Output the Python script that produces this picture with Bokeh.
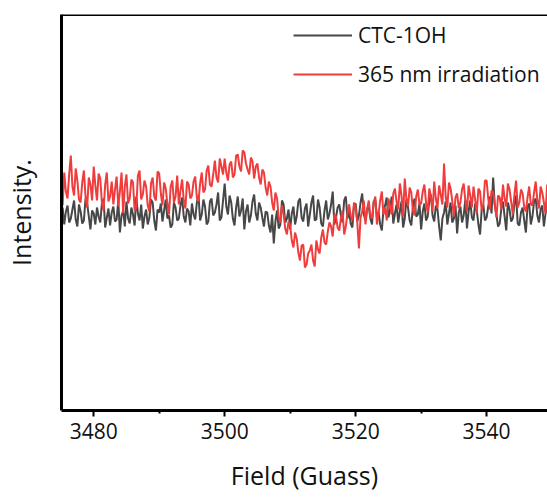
from bokeh.plotting import figure
from bokeh.models import Range1d, Span, FixedTicker, Legend, LegendItem
from bokeh.embed import file_html
from bokeh.resources import INLINE

# Magnetic field (G)
field = [
    3475.0, 3475.25, 3475.5, 3475.75, 3476.0, 3476.25, 3476.5, 3476.75, 3477.0, 3477.25,
    3477.5, 3477.75, 3478.0, 3478.25, 3478.5, 3478.75, 3479.0, 3479.25, 3479.5, 3479.75,
    3480.0, 3480.25, 3480.5, 3480.75, 3481.0, 3481.25, 3481.5, 3481.75, 3482.0, 3482.25,
    3482.5, 3482.75, 3483.0, 3483.25, 3483.5, 3483.75, 3484.0, 3484.25, 3484.5, 3484.75,
    3485.0, 3485.25, 3485.5, 3485.75, 3486.0, 3486.25, 3486.5, 3486.75, 3487.0, 3487.25,
    3487.5, 3487.75, 3488.0, 3488.25, 3488.5, 3488.75, 3489.0, 3489.25, 3489.5, 3489.75,
    3490.0, 3490.25, 3490.5, 3490.75, 3491.0, 3491.25, 3491.5, 3491.75, 3492.0, 3492.25,
    3492.5, 3492.75, 3493.0, 3493.25, 3493.5, 3493.75, 3494.0, 3494.25, 3494.5, 3494.75,
    3495.0, 3495.25, 3495.5, 3495.75, 3496.0, 3496.25, 3496.5, 3496.75, 3497.0, 3497.25,
    3497.5, 3497.75, 3498.0, 3498.25, 3498.5, 3498.75, 3499.0, 3499.25, 3499.5, 3499.75,
    3500.0, 3500.25, 3500.5, 3500.75, 3501.0, 3501.25, 3501.5, 3501.75, 3502.0, 3502.25,
    3502.5, 3502.75, 3503.0, 3503.25, 3503.5, 3503.75, 3504.0, 3504.25, 3504.5, 3504.75,
    3505.0, 3505.25, 3505.5, 3505.75, 3506.0, 3506.25, 3506.5, 3506.75, 3507.0, 3507.25,
    3507.5, 3507.75, 3508.0, 3508.25, 3508.5, 3508.75, 3509.0, 3509.25, 3509.5, 3509.75,
    3510.0, 3510.25, 3510.5, 3510.75, 3511.0, 3511.25, 3511.5, 3511.75, 3512.0, 3512.25,
    3512.5, 3512.75, 3513.0, 3513.25, 3513.5, 3513.75, 3514.0, 3514.25, 3514.5, 3514.75,
    3515.0, 3515.25, 3515.5, 3515.75, 3516.0, 3516.25, 3516.5, 3516.75, 3517.0, 3517.25,
    3517.5, 3517.75, 3518.0, 3518.25, 3518.5, 3518.75, 3519.0, 3519.25, 3519.5, 3519.75,
    3520.0, 3520.25, 3520.5, 3520.75, 3521.0, 3521.25, 3521.5, 3521.75, 3522.0, 3522.25,
    3522.5, 3522.75, 3523.0, 3523.25, 3523.5, 3523.75, 3524.0, 3524.25, 3524.5, 3524.75,
    3525.0, 3525.25, 3525.5, 3525.75, 3526.0, 3526.25, 3526.5, 3526.75, 3527.0, 3527.25,
    3527.5, 3527.75, 3528.0, 3528.25, 3528.5, 3528.75, 3529.0, 3529.25, 3529.5, 3529.75,
    3530.0, 3530.25, 3530.5, 3530.75, 3531.0, 3531.25, 3531.5, 3531.75, 3532.0, 3532.25,
    3532.5, 3532.75, 3533.0, 3533.25, 3533.5, 3533.75, 3534.0, 3534.25, 3534.5, 3534.75,
    3535.0, 3535.25, 3535.5, 3535.75, 3536.0, 3536.25, 3536.5, 3536.75, 3537.0, 3537.25,
    3537.5, 3537.75, 3538.0, 3538.25, 3538.5, 3538.75, 3539.0, 3539.25, 3539.5, 3539.75,
    3540.0, 3540.25, 3540.5, 3540.75, 3541.0, 3541.25, 3541.5, 3541.75, 3542.0, 3542.25,
    3542.5, 3542.75, 3543.0, 3543.25, 3543.5, 3543.75, 3544.0, 3544.25, 3544.5, 3544.75,
    3545.0, 3545.25, 3545.5, 3545.75, 3546.0, 3546.25, 3546.5, 3546.75, 3547.0, 3547.25,
    3547.5, 3547.75, 3548.0, 3548.25, 3548.5, 3548.75, 3549.0, 3549.25, 3549.5, 3549.75,
]

# CTC-1OH (dark) intensity, arbitrary units
ctc_1oh = [
    196, 203, 186, 199, 205, 188, 192, 201, 210, 191, 184, 206, 199, 187, 190, 212, 207, 194, 181, 200,
    197, 186, 203, 194, 188, 207, 212, 183, 193, 202, 185, 198, 204, 189, 191, 210, 178, 195, 200, 184,
    209, 192, 187, 203, 196, 185, 214, 197, 190, 206, 182, 194, 201, 186, 193, 211, 208, 190, 180, 201,
    198, 207, 189, 200, 211, 192, 195, 183, 186, 208, 203, 190, 192, 205, 213, 194, 188, 202, 199, 185,
    207, 196, 191, 208, 215, 190, 196, 211, 204, 186, 189, 209, 212, 195, 198, 206, 218, 190, 193, 210,
    227, 204, 196, 215, 208, 192, 185, 203, 214, 194, 200, 212, 181, 199, 206, 188, 195, 209, 216, 197,
    190, 208, 203, 193, 184, 199, 198, 185, 178, 196, 167, 189, 200, 182, 186, 210, 206, 188, 192, 201,
    181, 197, 204, 186, 194, 209, 212, 193, 189, 202, 207, 184, 196, 208, 215, 190, 191, 211, 203, 187,
    184, 200, 210, 191, 197, 206, 219, 186, 193, 203, 206, 195, 188, 210, 214, 192, 199, 187, 183, 205,
    207, 189, 195, 208, 217, 196, 190, 202, 204, 192, 186, 209, 211, 194, 198, 186, 180, 201, 205, 213,
    193, 201, 214, 187, 197, 206, 188, 199, 209, 183, 192, 211, 203, 190, 185, 204, 212, 194, 196, 207,
    181, 199, 207, 190, 194, 210, 216, 195, 189, 205, 201, 184, 170, 192, 198, 209, 186, 197, 208, 188,
    192, 205, 177, 198, 204, 188, 195, 211, 182, 199, 210, 193, 190, 207, 200, 186, 176, 201, 206, 190,
    193, 204, 214, 197, 233, 205, 196, 184, 187, 202, 209, 194, 180, 208, 201, 189, 192, 206, 215, 187,
    185, 198, 203, 190, 178, 204, 207, 186, 194, 209, 212, 195, 188, 201, 205, 184, 197, 206, 210, 192,
]

# 365 nm irradiation intensity, arbitrary units
irradiated = [
    222, 205, 238, 219, 212, 236, 255, 224, 215, 242, 230, 211, 208, 228, 240, 214, 203, 233, 226, 210,
    244, 225, 210, 237, 232, 208, 200, 226, 238, 209, 214, 229, 206, 221, 234, 204, 219, 238, 197, 224,
    236, 207, 212, 231, 228, 200, 203, 235, 240, 211, 216, 230, 224, 205, 199, 227, 233, 214, 210, 239,
    237, 217, 205, 228, 222, 207, 196, 224, 230, 208, 214, 235, 206, 220, 231, 210, 202, 229, 226, 212,
    215, 229, 234, 213, 209, 227, 238, 218, 221, 240, 245, 226, 224, 236, 250, 233, 228, 252, 244, 236,
    252, 238, 230, 246, 249, 233, 236, 255, 256, 244, 239, 260, 258, 247, 241, 236, 253, 249, 232, 244,
    247, 233, 226, 241, 238, 223, 215, 229, 224, 208, 200, 218, 212, 193, 188, 205, 196, 182, 176, 189,
    185, 170, 163, 178, 172, 158, 150, 165, 166, 143, 146, 157, 160, 166, 150, 144, 170, 161, 157, 173,
    181, 168, 166, 179, 188, 184, 174, 196, 194, 183, 180, 192, 200, 176, 184, 197, 206, 195, 190, 208,
    203, 188, 162, 193, 199, 210, 186, 201, 210, 195, 192, 207, 214, 186, 197, 210, 219, 196, 203, 190,
    212, 205, 196, 217, 222, 209, 201, 227, 215, 194, 232, 212, 204, 223, 218, 200, 195, 214, 221, 206,
    207, 219, 226, 208, 198, 222, 214, 199, 229, 212, 202, 225, 216, 206, 247, 214, 203, 228, 222, 210,
    194, 213, 217, 202, 208, 221, 227, 210, 199, 225, 215, 203, 224, 211, 197, 222, 219, 200, 206, 230,
    230, 212, 201, 220, 218, 206, 193, 215, 213, 201, 226, 212, 204, 227, 221, 209, 196, 216, 230, 203,
    208, 221, 217, 203, 199, 213, 224, 206, 205, 218, 229, 210, 202, 224, 218, 208, 197, 226, 215, 204,
]

series_names = ["CTC-1OH", "365 nm irradiation"]
x_ticks = [3480, 3500, 3520, 3540]
x_minor = [3490, 3510, 3530]

FONT = "Open Sans"

p = figure(
    width=547, height=497,
    x_range=Range1d(3475.08, 3549.3),
    y_range=Range1d(0, 396),
    output_backend="svg", toolbar_location=None,
    min_border_left=60, min_border_right=0,
    min_border_top=14, min_border_bottom=87,
)
p.outline_line_color = None
p.xgrid.visible = False
p.ygrid.visible = False
p.background_fill_color = "white"
p.border_fill_color = "white"

r1 = p.line(field, ctc_1oh, line_color="#474747", line_width=2)
r2 = p.line(field, irradiated, line_color="#ef3d3d", line_width=2)

# x axis
xa = p.xaxis[0]
xa.ticker = FixedTicker(ticks=x_ticks, minor_ticks=x_minor)
xa.axis_line_width = 3
xa.axis_line_color = "black"
xa.major_tick_line_width = 2
xa.major_tick_in = 0
xa.major_tick_out = 6
xa.minor_tick_line_width = 2
xa.minor_tick_in = 0
xa.minor_tick_out = 3
xa.major_label_text_font = FONT
xa.major_label_text_font_size = "21px"
xa.major_label_text_color = "#111111"
xa.major_label_standoff = 6
xa.axis_label = "Field (Guass)"
xa.axis_label_text_font = FONT
xa.axis_label_text_font_size = "25px"
xa.axis_label_text_font_style = "normal"
xa.axis_label_text_color = "#111111"
xa.axis_label_standoff = 16

# y axis
ya = p.yaxis[0]
ya.ticker = FixedTicker(ticks=[], minor_ticks=[])
ya.axis_line_width = 3
ya.axis_line_color = "black"
ya.major_tick_line_color = None
ya.minor_tick_line_color = None
ya.major_label_text_font_size = "0px"
ya.axis_label = "Intensity."
ya.axis_label_text_font = FONT
ya.axis_label_text_font_size = "25px"
ya.axis_label_text_font_style = "normal"
ya.axis_label_text_color = "#111111"
ya.axis_label_standoff = 24

# top border
p.add_layout(Span(location=396, dimension="width", line_color="black", line_width=3))

legend = Legend(
    items=[LegendItem(label=series_names[0], renderers=[r1]),
           LegendItem(label=series_names[1], renderers=[r2])],
    location=(232, 322),
    border_line_color=None, background_fill_alpha=0,
    label_text_font=FONT, label_text_font_size="21px", label_text_color="#111111",
    glyph_width=59, glyph_height=24, label_height=24, label_standoff=6,
    spacing=11, padding=0, margin=0,
)
p.add_layout(legend)

open("out.html", "w").write(file_html(p, INLINE))
